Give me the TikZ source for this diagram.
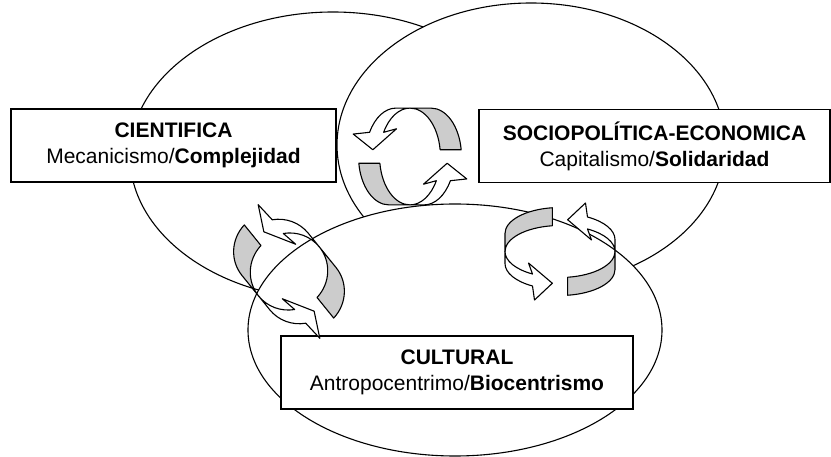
\documentclass[tikz,border=0pt]{standalone}
\usepackage{fontspec}
\setmainfont{Liberation Sans}

\newcommand{\swirlpair}[4]{%
    \foreach \r in {0,180}{
        \begin{scope}[shift={#1}, yscale=-1, rotate=#2+\r, xscale=#3, yscale=#4]
            \draw[inside] ({55*cos(98)},{26*sin(98)+18}) arc[start angle=98, end angle=180, x radius=55, y radius=26]
                -- (-55,0) arc[start angle=180, end angle=98, x radius=55, y radius=26] -- cycle;
            \draw[outside] (-55,0) arc[start angle=180, end angle=240, x radius=55, y radius=26]
                -- ++(-4,11) -- ({55*cos(262)},{26*sin(262)-6})
                -- ({55*cos(240)+2},{26*sin(240)-26}) -- ({55*cos(240)},{26*sin(240)-12})
                arc[start angle=240, end angle=180, x radius=55, y radius=26] -- cycle;
        \end{scope}
    }%
}

\begin{document}
\begin{tikzpicture}[x=1pt, y=-1pt,
        field/.style = {draw, fill=white, line width=1.1pt},
        labelbox/.style = {draw, fill=white, line width=1.6pt, align=center, inner sep=0pt,
            minimum width=#1, minimum height=73pt, font=\fontsize{21}{26}\selectfont},
        inside/.style = {draw, fill=gray!40, line width=1.1pt, line join=round},
        outside/.style = {draw, fill=white, line width=1.1pt, line join=round}
        ]
    \useasboundingbox (0,0) rectangle (831,457);

    \draw[field] (333,156) ellipse [x radius=203, y radius=144];
    \draw[field] (531,145) ellipse [x radius=194, y radius=142];
    \draw[field] (455,330) ellipse [x radius=207, y radius=126];

    \node (cient) at (173.5,145.5) [labelbox=325pt] {\textbf{CIENTIFICA}\\Mecanicismo/\textbf{Complejidad}};
    \node (socio) at (654.5,146) [labelbox=351pt] {\textbf{SOCIOPOLÍTICA-ECONOMICA}\\Capitalismo/\textbf{Solidaridad}};
    \node (cult) at (457,372.5) [labelbox=352pt] {\textbf{CULTURAL}\\Antropocentrimo/\textbf{Biocentrismo}};

    \swirlpair{(410,156.5)}{90}{0.88}{1.17}
    \swirlpair{(560,251.5)}{0}{1}{1}
    \swirlpair{(289,271.5)}{-39}{0.71}{1.47}
\end{tikzpicture}
\end{document}
